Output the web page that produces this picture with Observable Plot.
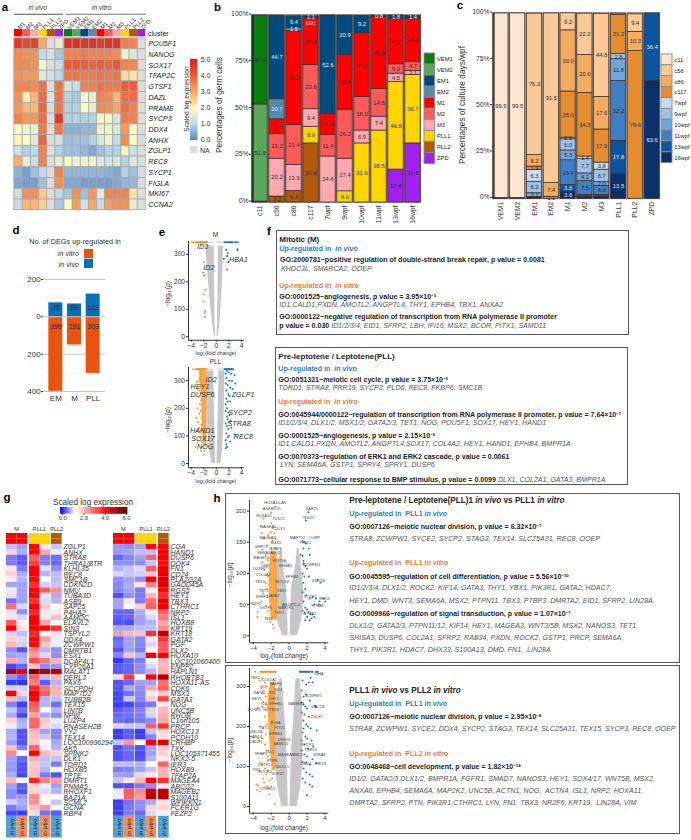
<!DOCTYPE html>
<html><head><meta charset="utf-8">
<script src="https://cdn.jsdelivr.net/npm/d3@7"></script>
<script src="https://cdn.jsdelivr.net/npm/@observablehq/plot@0.6"></script>
<style>
html,body{margin:0;padding:0;background:#fff}
#stage{position:relative;width:691px;height:840px;overflow:hidden;font-family:"Liberation Sans",Arial,sans-serif}
#stage div{position:absolute;white-space:nowrap}
#stage sup{font-size:62%;line-height:0;vertical-align:baseline;position:relative;top:-.45em}
.box{border:1.2px solid #5a5a5a;box-sizing:border-box}
</style></head><body><div id="stage"></div>
<script>
// ---------- panel a ----------
const aGenes=["POU5F1","NANOG","SOX17","TFAP2C","GTSF1","DAZL","PRAME","SYCP3","DDX4","ANHX","ZGLP1","REC8","SYCP1","FIGLA","MKI67","CCNA2"];
const aVivoCols=["M1","M2","M3","PLL1","PLL2","ZPD"];
const aVitroCols=["VEM1","VEM2","EM1","EM2","M1","M2","M3","PLL1","PLL2","ZPD"];
const aVivoValues=[
[4.6,4.4,4.5,3,null,1.6],[3.4,3.3,3.3,1.0,null,.8],[3.4,3.4,3.3,1.8,null,1.1],[3.3,3.2,3.2,1.5,null,1.0],
[3.5,3.5,3.4,3.7,null,3.7],[3.3,2.2,2.8,3.8,null,3.7],[3.2,2.8,2.8,3.9,null,3.7],[3.5,3.2,3.2,3.8,null,4.7],
[2,1.7,1.6,3.6,null,3.7],[2.1,1.9,1.5,3.9,null,1.3],[1.2,.9,1,3.5,null,.9],[2.9,1.6,1.2,3.5,null,1.5],
[.5,.3,.7,1,null,3.5],[.4,.3,.3,.7,null,3.3],[1.2,3.3,3.3,2.6,null,1],[1.1,2.8,2.8,2.5,null,.8]];
const aVitroValues=[
[4.8,4.8,4.7,4.7,4.6,4.7,4.7,3.6,3.5,null],[3.5,3.5,3.6,3.5,3.5,3.5,3.4,1.7,1.4,null],[4.1,4.1,4.0,3.9,4.0,3.9,4.1,3.5,3.4,null],[3.7,3.7,3.6,3.6,3.7,3.6,3.7,2.4,2.3,null],
[1.3,1.1,3.5,3.5,3.7,3.6,3.6,4.0,4.0,null],[.9,.8,1.8,1.6,3.5,3.4,2.8,3.8,3.8,null],[.9,.9,1.9,1.6,3.4,3.3,3.0,3.8,3.5,null],[.9,.9,.9,.9,1.9,1.8,1.3,3.6,3.5,null],
[.5,.5,.6,.6,1.7,1.7,1.4,3.2,2.0,null],[.7,.7,.7,.9,1.4,1.7,1.1,3.4,2,null],[.7,.7,.6,.4,.7,.9,.9,2.1,1.2,null],[1.9,1.7,1.7,1.7,1.4,1.2,1.4,.9,1.4,null],
[.6,.6,.6,.6,.6,.5,.4,.9,.7,null],[.4,.4,.3,.3,.3,.3,.4,.6,.6,null],[.8,3.3,.7,3.2,1.5,3.5,3.5,3.5,2.3,null],[2,3.1,1.2,3,1.1,3.1,3.3,3.3,1.6,null]];
const aStops=[0,1,2,3,4,5];
const aStopColors=["#5b86c2","#bcdaea","#fffdc0","#fca55d","#ec5f3c","#d7261e"];
const clusterNames=["VEM1","VEM2","EM1","EM2","M1","M2","M3","PLL1","PLL2","ZPD"];
const clusterColors=["#0a7d10","#5aa85a","#004b7d","#5788ad","#ff0000","#ff5a5a","#ffa8b0","#ffd500","#b35806","#a020f0"];
// ---------- panel b ----------
const bCats=["c11","c56","c86","c117","7wpf","9wpf","10wpf","11wpf","13wpf","16wpf"];
const bZPD =[0,0,0,0,0,0,0,0,17.6,31.6];
const bPLL2=[0,3.2,6.2,31.6,0,0,0,0,0,0];
const bPLL1=[0,0,0,8.9,0,6.0,31.6,38.5,46.8,36.7];
const bM3  =[0,20.2,13.9,9.4,24.6,17.4,6.9,7.4,4.5,2.1];
const bM2  =[0,13.2,21.4,23.6,11.4,26.2,18.0,14.8,5.0,4.7];
const bM1  =[0,7.9,50.2,25.0,11.4,29.4,34.1,38.5,24.3,23.3];
const bEM2 =[0,10.7,1.5,0,0,0,0,0,0,0];
const bEM1 =[.5,44.7,6.4,1.1,52.6,20.9,9.2,.8,1.8,1.4];
const bVEM2=[51.9,0,0,0,0,0,0,0,0,0];
const bVEM1=[47.6,0,0,0,0,0,0,0,0,0];
// ---------- panel c ----------
const cCats=["VEM1","VEM2","EM1","EM2","M1","M2","M3","PLL1","PLL2","ZPD"];
const cSeriesNames=["c11","c56","c86","c117","7wpf","9wpf","10wpf","11wpf","13wpf","16wpf"];
const cSeriesColors=["#fde6cf","#fbc996","#f5ac60","#e58e30","#c8ddf0","#9cc3e6","#6fa6dc","#3f7fc4","#0b559f","#08306b"];
const c16=[.5,.5,.9,0,3.6,.9,1.0,13.5,0,63.6];
const c13=[0,0,0,0,3.8,1.2,1.1,17.8,0,36.4];
const c11w=[0,0,0,0,13.4,7.5,4.9,32.2,0,0];
const c10=[0,0,2.1,0,5.3,4.1,2.0,11.8,0,0];
const c9=[0,0,6.2,0,6.0,7.7,6.7,2.8,0,0];
const c7=[0,0,6.3,0,.8,1.4,3.8,0,0,0];
const c117=[0,0,1.9,1.1,25.0,34.3,17.9,21.2,79.8,0];
const c86=[0,0,6.2,7.4,33.0,20.6,17.6,.6,10.3,0];
const c56=[0,0,76.3,91.5,9.2,22.2,44.8,0,9.4,0];
const c11=[99.5,99.5,0,0,0,0,0,0,0,0];
// ---------- panel d ----------
const dCats=["EM","M","PLL"];
const dVivo=[75,69,122];
const dVitro=[399,151,303];
// ---------- panel e ----------
const eMTopOrange=[-3.9,-3.7,-3.3,-3.1,-3.0,-2.9,-2.8,-2.7,-2.6,-2.5,-2.4,-2.3,-2.2,-2.1,-2,-1.9,-1.8,-1.7,-1.6,-1.5];
const eMTopBlue=[1.3,1.5,1.7,1.9,2.1,2.3,2.4,2.6,3,3.1,3.4];
const eMTopGrey=[-1.4,-1.2,-1,-.8,-.6,.3,.5,.7,.9,1.1];
const eMOrange=[[-1.98,272],[-2.1,233],[-1.83,224],[-2.0,222],[-1.77,170],[-1.98,154],[-2.04,128],[-1.77,94],[-1.83,85],[-1.77,73]];
const eMBlue=[[1.56,316],[1.83,304],[3.4,316],[3.35,318],[1.72,294],[1.2,284],[1.93,272],[1.72,245]];
const eMLevels=[0,50,100,150,200,250,300,330];
const eMLeftOuter=[-.3,-.6,-.85,-1.05,-1.25,-1.4,-1.6,-1.65];
const eMLeftInner=[-.12,-.2,-.22,-.25,-.28,-.3,-.32,-.35];
const eMRightOuter=[.3,.55,.7,.85,.95,1.05,1.1,1.1];
const eMRightInner=[.12,.2,.22,.25,.28,.3,.3,.3];
const eMLabels=[["ID3",-2.17,328],["ID2",-1.2,251],["HBA1",3.5,282]];
const ePTopOrange=[-3.7,-3.3,-3.1,-3,-2.9,-2.8,-2.7,-2.6,-2.5,-2.4,-2.3,-2.2,-2.1,-2,-1.9,-1.8,-1.7,-1.6];
const ePTopBlue=[1.3,1.4,1.5,1.6,1.7,1.8,1.9,2,2.1,2.2,2.3,2.4,2.5,2.7];
const ePTopGrey=[-1.4,-1.2,-1,-.8,.4,.7,1,1.2];
const ePOrange=[[-3.3,60],[-3.0,75],[-2.9,115],[-3.1,118],[-2.9,150],[-3.2,165],[-2.7,180],[-3,200],[-2.6,215],[-2.9,240],[-2.5,255],[-2.8,300],[-2.6,310],[-2.5,280],[-2.4,230],[-2.5,190],[-2.4,140],[-2.6,95],[-2.4,80],[-2.3,60],[-2.4,45],[-1.9,45],[-2.0,32],[-2.7,130],[-2.35,165],[-2.45,120],[-2.4,300],[-2.35,325],[-2.5,335],[-3.1,295],[-3.0,270],[-2.7,265]];
const ePBlue=[[1.5,325],[1.7,335],[2,330],[2.4,325],[2.9,320],[1.6,310],[2.0,300],[2.5,300],[3.0,290],[1.5,290],[1.8,285],[2.2,275],[2.6,270],[1.6,265],[1.9,250],[2.1,245],[1.6,235],[1.8,225],[1.5,215],[2.2,225],[1.7,200],[1.5,190],[1.9,185],[2.1,175],[1.7,170],[1.8,160],[2.0,150],[2.3,155],[1.5,145],[1.7,135],[1.9,125],[2.4,130],[2.9,105],[1.6,110],[1.8,95],[2.0,100],[1.5,85],[1.6,70],[1.7,60],[2.2,80],[1.5,55]];
const ePLevels=[0,50,100,150,200,250,300,335];
const ePLeftOuter=[-.7,-1.1,-1.3,-1.4,-1.5,-1.5,-1.5,-1.5];
const ePLeftInner=[-.1,-.15,-.2,-.25,-.3,-.35,-.4,-.45];
const ePRightOuter=[.7,1.0,1.1,1.2,1.25,1.3,1.35,1.3];
const ePRightInner=[.1,.15,.2,.25,.3,.35,.4,.4];
const ePBandLevels=[60,100,150,200,250,300,335];
const ePBandLeft=[-2.0,-2.15,-2.25,-2.3,-2.4,-2.6,-2.7];
const ePBandRight=[-1.5,-1.5,-1.5,-1.5,-1.45,-1.45,-1.45];
const ePLabels=[["ID2",-.82,303],["HEY1",-2.6,280],["DUSP6",-2.2,251],["HAND1",-2.25,120],["SOX17",-2.14,90],["NOG",-1.77,62],["ZGLP1",4.26,249],["SYCP2",3.78,184],["STRA8",3.62,146],["REC8",4.3,99]];
// ---------- panel g ----------
const gColLabels=["in vivo","in vitro"];
const gLeftGenes=["ZGLP1","ANHX","STRA8","THRA1/BTR","KLHL35","REC8","SMC1B","CDKN2D","NMU","TUBA3D","ASB9","SAP25","P4HA2","AAMDC","ELAVL2","SIN3","TSPYL2","DDX4","ZCWPW1","DMRTB1","ESX1","DCAF4L1","CYP26A1","MALAT1","DERL3","PAX6","SCCPDH","MAP7D2","TUBB2B","TEX15","LIN7B","NPW","LUZP4","RNASEH2B","YY2","TEX14","LOC100996294","AK5","SPINK2","DLK1","TDRD1","HOXB5","TPTE","DMRT1","PNMA5","RHOXF1","BAZ1A","SCML2","GCNA","RBP4"];
const gLeftValues=[[.85,.7,4,1.5,.9],[1.7,.75,4,2.2,1.1],[.5,.35,3,.5,.45],[.5,.35,3.3,.55,.4],[1.5,.5,4,1.05,.6],[1.7,.75,4,.8,.85],[1.45,.8,3.9,1.2,.85],[.7,.7,3.5,.95,.9],[1.1,.7,4,3,2.5],[1.6,.7,4,1.05,.75],[.45,.7,3.5,1.0,.8],[2.8,1.0,4,1.8,1.2],[1.05,.6,3.6,1.5,1.1],[1.5,1.0,4,1.5,1.9],[3,1.4,4,2.2,1.25],[4,1.5,4.2,4,3.5],[1.0,.85,3.6,1.2,1.05],[1.7,1,3.9,2.3,1.1],[2,.95,3.9,1.8,1.1],[.6,.3,2.6,.8,.6],[.7,.75,2.3,1.0,.6],[2.2,.8,3.2,2.7,2],[.25,.4,1.9,.6,.65],[4.9,4.1,5.5,4.8,4.7],[.6,.4,3,.85,2],[.2,.15,2.6,.35,.8],[.95,.95,3.6,2.8,2.1],[4,1.7,4.2,3,2],[2,.8,4,.8,.85],[.55,.2,3,.8,.45],[.9,.45,2.8,1.2,.8],[.75,.25,2.2,.75,.6],[1.7,.75,2.9,1.8,1.1],[1.1,.8,2.9,1.7,1.0],[.75,.3,2.0,.7,.55],[.8,.3,1.9,.9,.55],[.7,.3,1.8,1.3,.75],[1.9,.55,2.9,1.1,.8],[2.5,1.2,4,2,1.7],[.7,.4,2.1,.85,.9],[.65,.3,1.8,.9,.5],[.65,.3,1.9,.8,1.2],[.75,.25,1.9,.5,.3],[2,1.2,3.6,2.6,2.3],[.7,.35,1.7,1.1,.7],[.6,.3,1.7,1.0,.8],[.6,.65,2.5,1.3,1.2],[.95,.75,2.4,1.3,.9],[.5,.7,1.9,2.4,1.2],[.25,.2,1.6,.45,.35]];
const gRightGenes=["CGA","HAND1","DUSP6","DOK4","FN1","CD24","PLA2G2A","GADD45A","RGS5","HEY1","TBX3","CTHRC1","NRP2","ISL1","HOXB8","KRT19","KRT18","GATA2","PGF","DLX2","HOXA10","LOC101060400","ENPP2","HAPLN1","RHOBTB3","HOXA11-AS","CDK6","MSX1","GATA3","NOG","UNC5B","RHOB","C1orf105","PRCP","HOXC13","PCDH10","CRHBP","TXK","LOC105371455","NKX2-5","IER3","HOXB9","TFAP2A","MAGEA4","ABCG2","MAGEB2","S100A11","WFIKKN1","FCER1G","FEZF2"];
const gRightValues=[[.65,.6,.7,4,4],[.65,.7,.85,.85,4],[.4,.55,.7,2.9,4],[.6,.6,.6,.9,3.9],[.8,.9,1.0,3,4.2],[1.0,.9,.95,1.8,4.3],[.6,.7,.6,4.1,4.3],[.55,.75,1.5,2.6,4.4],[.55,.7,.5,1.3,3.9],[.3,.6,.5,2,3.5],[.7,1.1,.5,2.8,4.2],[.7,1.25,1.7,3,4.2],[.4,.4,.75,1.4,3],[.35,.4,.7,1.0,2.7],[.3,.3,.7,.8,2.2],[.75,.75,.85,.85,2.5],[2.3,2,1.9,3.5,4.7],[.4,.7,.55,1.5,3.4],[.45,.7,.55,1.0,3],[.3,.7,.5,1.2,3],[.55,1.9,.8,4,4],[.15,.4,.5,1.2,2],[.35,.4,.6,1.0,2],[.35,.4,.6,.8,2.1],[1.6,3.4,1.2,4,4.9],[.3,.4,.7,.7,2.8],[.3,.75,.6,2.2,3],[.25,.45,.55,1.1,1.8],[.25,.9,.55,1.8,3.3],[.2,.25,.4,.5,1.5],[.35,.45,.55,1.0,2],[.4,.45,.5,1.0,2.1],[.45,.4,.5,.6,2.2],[1.0,.9,.9,3,3.5],[.2,.35,.2,.9,1.6],[.2,.35,.2,.55,1.6],[.9,2.4,1.2,4,4.4],[.3,.45,.3,.7,1.8],[.3,.4,.25,.7,1.7],[.3,.4,.3,.8,1.4],[.85,.85,.8,1.25,2.9],[.5,.55,.7,.9,2],[.7,.65,1.0,1.5,2.1],[.9,1.5,2,4,3.5],[.3,.3,.5,.6,1.1],[1.1,3,2.5,4.5,4.6],[1.1,2.9,2.3,4.8,4.8],[.2,.45,.6,.75,1.5],[.2,.5,.6,1.7,1.7],[.2,.5,.4,1,1.4]];
const gStops=[0,.5,1.2,4,6];
const gStopColors=["#1414ff","#7a7aff","#ffffff","#ff0000","#4d0000"];
// ---------- panel h ----------
const h1TopLevels=[0,25,50,80,100,120,140];
const h1LeftOuter=[-.75,-1.3,-1.45,-1.5,-1.4,-1.2,-.9];
const h1LeftInner=[-.12,-.15,-.2,-.3,-.55,-.7,-.8];
const h1RightOuter=[.95,1.4,1.6,1.6,1.45,1.3,1.1];
const h1RightInner=[.12,.15,.2,.3,.6,.8,.9];
const h1BandLevels=[25,50,80,110,135];
const h1BandLeft=[-2.0,-2.15,-2.25,-2.2,-2.0];
const h1BandRight=[-1.3,-1.3,-1.3,-1.3,-1.35];
const h1Grey=[[1.2,150],[1.0,145],[1.4,160],[.9,135],[.6,125],[1.1,130],[-.9,148],[-.7,130],[1.7,70],[1.8,40],[-1.1,150],[.4,110],[-.5,108]];
const h1Orange=[[-1.56,207],[-2,197],[-2.87,188],[-2,181],[-1.86,173],[-2.05,166],[-3.05,165],[-2.35,162],[-1.68,165],[-2.8,156],[-1.86,153],[-1.5,155],[-2.42,145],[-3,138],[-2,140],[-1.5,140],[-2.6,129],[-1.86,126],[-1.6,133],[-3,118],[-2.4,121],[-2.8,105],[-2.5,110],[-2.4,95],[-2.6,85],[-2.5,75],[-2.9,68],[-2.45,62],[-3.1,55],[-2.6,48],[-2.4,40],[-3.5,38],[-3.9,50],[-3.54,30],[-2.1,22],[-1.75,12],[-1.9,30],[-1.8,18]];
const h1Blue=[[2.16,198],[1.86,185],[1.5,152],[1.7,150],[1.9,148],[2.2,140],[1.6,140],[1.3,130],[1.5,128],[2.3,130],[1.6,120],[1.6,115],[1.8,112],[2,108],[1.5,100],[1.7,95],[2.2,95],[1.6,85],[1.8,75],[3.2,90],[3.5,85],[1.5,70],[1.9,65],[2.3,60],[2.6,62],[3.0,60],[3.4,55],[3.9,60],[4.05,55],[2.8,50],[3.3,50],[1.6,55],[1.8,45],[2.0,42],[2.2,38],[2.4,35],[2.6,34],[1.5,40],[1.7,36],[2.0,30],[2.5,28],[2.8,30],[1.8,25],[2.3,25]];
const h1Labels=[["HOXA10-AS",-1.56,213],["ANKRD55",-1.94,204],["HOXA10",-2.83,193],["TUSC1",-1.19,187],["MAGEA6",-2.35,175],["DLX1",-1,171],["MAGEA3",-2.42,158],["MSX2",-1.49,150],["SPRY1",-3.13,143],["TUBB3",-1.6,140],["SEMA6A",-2.7,133],["DLX2",-1.45,133],["MAGED4",-3.1,125],["WNT5A",-1.1,120],["LBH",-2.7,113],["SEMA3",-.45,113],["DUSP6",-3.35,107],["COL4A1",-2.9,98],["EPHB4",.3,95],["TBX3",-3.28,87],["ROCK2",-.75,87],["TET1",-2.83,72],["YBX1",-.82,72],["SFRP2",-3.05,63],["GATA2",-1.78,65],["PITX1",-3.72,51],["ANGPTL4",.19,50],["GSTP1",-2.6,45],["MAP2K3",-.37,45],["THY1",-1.1,37],["FN1",-2.3,28],["SAP25",2.53,203],["NSG1",2.16,190],["MAP7D2",.93,157],["OOEP",2.8,157],["TEX15",1.8,149],["ZCWPW1",2.53,114],["SMC1B",3.28,88],["SYCP1",2.35,63],["REC8",3.95,59],["STRA8",3.17,48],["SYCE1",2.35,36]];
const h2TopOrange=[-3.8,-3.2,-3.1,-3,-2.9,-2.8,-2.7,-2.6,-2.5,-2.4,-2.3,-2.2,-2.1,-2,-1.9,-1.8,-1.7,-1.6,-1.5];
const h2TopBlue=[1.2,1.3,1.4,1.5,1.6,1.7,1.8,1.9,2,2.1,2.2,2.3,2.5,2.6,3,3.2];
const h2Levels=[0,50,100,150,200,250,300,320];
const h2LeftOuter=[-.8,-1.3,-1.5,-1.5,-1.5,-1.4,-1.2,-1.0];
const h2LeftInner=[-.1,-.15,-.2,-.25,-.4,-.55,-.7,-.8];
const h2RightOuter=[.9,1.3,1.5,1.5,1.5,1.5,1.3,1.2];
const h2RightInner=[.1,.15,.2,.3,.45,.6,.7,.8];
const h2BandLevels=[90,130,180,230,280,310];
const h2BandLeft=[-1.9,-2.05,-2.2,-2.3,-2.3,-2.0];
const h2BandRight=[-1.45,-1.45,-1.45,-1.45,-1.45,-1.5];
const h2Grey=[[-1.1,325],[-.9,310],[.6,330],[.8,320],[1.1,300],[-1.7,30],[-1.6,60],[1.6,40],[1.5,70],[-.6,285],[.5,300]];
const h2Orange=[[-3.3,315],[-3.05,320],[-2.7,310],[-2.5,300],[-2.85,290],[-3.1,295],[-2.6,275],[-2.9,262],[-2.5,255],[-2.6,240],[-3.5,248],[-3.0,250],[-2.7,225],[-2.5,205],[-3.3,200],[-2.9,195],[-2.6,180],[-3.0,170],[-3.35,165],[-3.5,170],[-2.7,155],[-2.5,140],[-3.0,130],[-2.4,125],[-3.2,110],[-3.0,105],[-2.7,95],[-2.4,90],[-2.6,80],[-2.9,70],[-3.6,42],[-3.5,52],[-3.65,55],[-3.3,38],[-2.8,60],[-2.5,50],[-2.2,65],[-1.9,70],[-2.0,50],[-2.2,30],[-1.6,7]];
const h2Blue=[[1.5,315],[1.9,305],[2.2,310],[2.4,322],[2.6,310],[1.4,290],[1.6,275],[1.9,280],[2.3,265],[1.4,260],[1.6,255],[1.8,250],[2,245],[3.0,248],[2.9,252],[1.4,235],[1.7,230],[2.2,225],[1.6,215],[1.9,205],[2.1,200],[1.6,195],[3.1,190],[1.5,185],[2.4,195],[1.8,175],[2,170],[2.5,165],[1.4,165],[1.7,155],[2.1,145],[2.7,150],[1.4,140],[1.7,130],[2.0,125],[2.6,118],[1.5,112],[1.9,110],[2.3,105],[3.0,108],[1.6,95],[1.9,85],[2.3,80],[2.6,75],[1.5,70],[1.8,60],[2.3,55],[2.6,50],[2.0,28]];
const h2Labels=[["TBX3",-3.8,323],["COL2A1",-2.2,318],["FABP4",-1.5,307],["ID1",-2.9,300],["SIX1",-1.23,292],["GATA2",-3.3,285],["SIX2",-1.8,284],["HEY1",-3.6,270],["LHX1",-1.7,270],["ID3",-2.8,257],["EPHB1",-1.5,257],["MAGEB1",.8,257],["ID2",-2.6,244],["DUSP6",-3.9,242],["TBX2",-1.7,242],["FLNA",-1.5,209],["TET1",-2.8,197],["PITX1",-1.05,196],["UNC5B",-3.7,186],["EPHB4",-1.5,182],["HAND1",-3.7,174],["DHX33",-.55,168],["CALD1",-3.7,161],["SAMD11",-.93,157],["SFRP2",-3.15,133],["ISL1",-2.15,137],["MAGEA3",-.37,129],["SMC1",.93,129],["PTPN",-1.9,115],["GSTP1",-2.8,105],["NKX2-5",-.75,100],["FN1",-3.65,92],["ROCK2",-2.7,88],["SOX17",-1.3,83],["CTHRC1",-2.4,44],["INHA",3.3,332],["ZCWPW1",2.7,278],["SMC1B",3.2,250],["ZGLP1",3.1,225],["SYCP2",2,155],["TDRD1",2.4,142],["STRA8",3.35,129],["DMC1",1.9,108],["REC8",3.55,107]];

const ORANGE="#f7931e",BLUE="#1f78b8",GREY="#c6c6c6",INK="#333";
const stage=document.getElementById("stage");

function put(html,x,y,o={}){
  const d=document.createElement("div");
  const ax=o.anchor==="center"?"-50%":o.anchor==="right"?"-100%":"0";
  d.style.left=x+"px";d.style.top=y+"px";
  d.style.transform=`translate(${ax},-50%)`+(o.rot?` rotate(${o.rot}deg)`:"");
  d.style.fontSize=(o.size||7)+"px";
  if(o.bold)d.style.fontWeight="bold";
  if(o.italic)d.style.fontStyle="italic";
  d.style.color=o.color||INK;
  d.innerHTML=html;stage.append(d);return d;
}
function box(x0,y0,x1,y1){
  const d=document.createElement("div");d.className="box";
  d.style.cssText+=`left:${x0}px;top:${y0}px;width:${x1-x0}px;height:${y1-y0}px`;
  stage.append(d);
}
function panel(f,options){
  const [t,r,b,l]=f.pad||[0,0,0,0];
  const svg=Plot.plot({
    width:f.x[1]-f.x[0]+l+r,height:f.y[1]-f.y[0]+t+b,
    marginTop:t,marginRight:r,marginBottom:b,marginLeft:l,
    style:{background:"transparent",overflow:"visible",fontFamily:'"Liberation Sans",Arial,sans-serif',color:INK},
    ...options});
  svg.style.position="absolute";
  svg.style.left=(f.x[0]-l)+"px";svg.style.top=(f.y[0]-t)+"px";
  stage.append(svg);return svg;
}
const band=(domain,extra={})=>({type:"band",domain,padding:0,round:false,axis:null,...extra});

// ===== panel letters =====
[["a",5,7],["b",217.5,7],["c",460,5],["d",16,230],["e",162,232],["f",269,231],["g",7,497],["h",217,498]]
  .forEach(([t,x,y])=>put(t,x,y,{size:11.5,bold:true,color:"#000",anchor:"center"}));

// ===== panel a =====
function heatA(cols,values,fx,withGenes){
  const cells=values.flatMap((row,i)=>row.map((v,j)=>({gene:aGenes[i],col:cols[j],v})));
  panel({x:fx,y:[38.3,210],pad:[0,withGenes?40:0,0,0]},{
    x:band(cols),y:band(aGenes),
    color:{type:"linear",domain:aStops,range:aStopColors,clamp:true},
    marks:[
      Plot.cell(cells,{x:"col",y:"gene",fill:"#dcdcdc",stroke:"#a5a5a5",strokeWidth:.7}),
      Plot.cell(cells.filter(d=>d.v!=null),{x:"col",y:"gene",fill:"v",stroke:"#a5a5a5",strokeWidth:.7}),
      ...(withGenes?[Plot.text(aGenes,{y:d=>d,frameAnchor:"right",textAnchor:"start",dx:2.5,fontSize:7.2,fontStyle:"italic",fill:"#222"})]:[])
    ]});
  panel({x:fx,y:[29.4,36.8],pad:[18,0,0,0]},{
    x:{...band(cols),axis:null},y:band(["cluster"]),
    color:{domain:clusterNames,range:clusterColors},
    marks:[
      Plot.cell(cols,{x:d=>d,y:()=>"cluster",fill:d=>d}),
      Plot.axisX({anchor:"top",tickRotate:-45,tickSize:0,tickPadding:1,fontSize:5.8,fill:"#333",label:null}),
    ]});
}
heatA(aVivoCols,aVivoValues,[14.3,63.3],false);
heatA(aVitroCols,aVitroValues,[64.3,145.6],true);
put("in vivo",37.7,7.3,{italic:true,size:6.5,anchor:"center"});
put("in vitro",101.7,7.3,{italic:true,size:6.5,anchor:"center"});
put("cluster",148,33,{size:7,color:"#222"});
panel({x:[14.3,63.3],y:[12.5,14],pad:[0,0,0,0]},{x:{axis:null,domain:[0,1]},y:{axis:null,domain:[0,1]},marks:[Plot.ruleY([.5],{stroke:"#555",strokeWidth:1})]});
panel({x:[65.7,145.7],y:[12.5,14],pad:[0,0,0,0]},{x:{axis:null,domain:[0,1]},y:{axis:null,domain:[0,1]},marks:[Plot.ruleY([.5],{stroke:"#777",strokeWidth:1})]});
// legend a
panel({x:[190,197.3],y:[59.3,139.3],pad:[0,14,0,0]},{
  y:{domain:[0,5]},x:{axis:null,domain:[0,1]},
  color:{type:"linear",domain:aStops,range:aStopColors},
  marks:[
    Plot.ruleY(d3.range(0,5.02,.04),{y:d=>d,stroke:d=>d,strokeWidth:1.3}),
    Plot.axisY({anchor:"right",ticks:aStops,tickSize:0,tickPadding:3,fontSize:7,label:null})
  ]});
put("Scaled log expression",185.7,98.5,{size:6.7,rot:-90,anchor:"center"});
panel({x:[190,197.3],y:[145.7,153],pad:[0,0,0,0]},{x:{axis:null,domain:[0,1]},y:{axis:null,domain:[0,1]},marks:[Plot.rect([0],{x1:0,x2:1,y1:0,y2:1,fill:"#dcdcdc"})]});
put("NA",200,149.5,{size:7});

// ===== stacked bars =====
function stacked(cats,series,f,colorDomain,colorRange,whiteSeries,hide,axisX){
  const rows=[];
  cats.forEach((c,i)=>{let s=0;series.forEach(([name,vals])=>{const v=vals[i];if(v>0){rows.push({cat:c,name,v,y1:s,y2:s+v});s+=v;}});});
  panel(f,{
    x:band(cats,{paddingInner:.1,paddingOuter:.05,padding:undefined}),
    y:{domain:[0,100],axis:null},
    color:{domain:colorDomain,range:colorRange},
    marks:[
      Plot.barY(cats,{x:d=>d,y1:()=>0,y2:()=>100,fill:"#fff",stroke:"#8a8a8a",strokeWidth:1.8}),
      Plot.barY(rows,{x:"cat",y1:"y1",y2:"y2",fill:"name",stroke:"#3a2a2a",strokeWidth:.7}),
      Plot.text(rows.filter(d=>!hide(d)),{x:"cat",y:d=>(d.y1+d.y2)/2,text:d=>d.v.toFixed(1),fontSize:5.8,fill:d=>whiteSeries.includes(d.name)?"#e6eef5":"#2a2a2a"}),
      Plot.ruleX([0],{x:()=>cats[0],dx:axisX.dx,y1:0,y2:100,stroke:"#222",strokeWidth:1.4}),
      Plot.axisX({anchor:"bottom",tickSize:0,tickRotate:-90,tickPadding:3,fontSize:6.8,label:null}),
      Plot.axisY({anchor:"left",ticks:[0,25,50,75,100],tickFormat:d=>d+"%",tickSize:2,tickPadding:1,fontSize:6.8,label:null,dy:-1.5}),
    ]});
}
function legendColumn(n,c,f){
  panel(f,{
    x:{type:"band",domain:["k"],padding:0,round:false,axis:null},y:band(n),
    color:{domain:n,range:c},
    marks:[
      Plot.cell(n,{x:()=>"k",y:d=>d,fill:d=>d,stroke:"#8a8a8a",strokeWidth:.9}),
      Plot.text(n,{y:d=>d,frameAnchor:"right",textAnchor:"start",dx:1.8,fontSize:5.8,fill:"#222"})
    ]});
}
const bSeries=[["ZPD",bZPD],["PLL2",bPLL2],["PLL1",bPLL1],["M3",bM3],["M2",bM2],["M1",bM1],["EM2",bEM2],["EM1",bEM1],["VEM2",bVEM2],["VEM1",bVEM1]];
stacked(bCats,bSeries,{x:[251.45,421.45],y:[15,202],pad:[6,0,20,24]},clusterNames,clusterColors,["EM1","EM2"],d=>d.v<.7,{dx:-7});
put("EM1",311,23.3,{size:5,color:"#f4dcdc",anchor:"center"});
put("Percentages of germ cells",219,105,{size:8.3,rot:-90,anchor:"center"});
legendColumn(clusterNames,clusterColors,{x:[424,434.7],y:[53,163.5],pad:[0,24,0,0]});
// panel c
const cSeries=[["16wpf",c16],["13wpf",c13],["11wpf",c11w],["10wpf",c10],["9wpf",c9],["7wpf",c7],["c117",c117],["c86",c86],["c56",c56],["c11",c11]];
stacked(cCats,cSeries,{x:[491.5,659.5],y:[12.7,198],pad:[6,0,20,24]},cSeriesNames,cSeriesColors,["13wpf","16wpf"],d=>d.v<.7||((d.name==="16wpf"||d.name==="13wpf")&&d.v<1.5),{dx:-7});
put("Percentages of culture days/wpf",462.3,105,{size:8.3,rot:-90,anchor:"center"});
legendColumn(cSeriesNames,cSeriesColors,{x:[660.7,671.7],y:[54,162.7],pad:[0,20,0,0]});

// ===== panel d =====
panel({x:[43,105],y:[278.7,390.7],pad:[4,2,16,16]},{
  x:band(dCats,{paddingInner:.25,paddingOuter:.287,padding:undefined}),
  y:{domain:[-400,200],axis:null},
  marks:[
    Plot.ruleY([100,-100,-300],{stroke:"#efefef",strokeWidth:1}),
    Plot.ruleY([200,-200,-400],{stroke:"#c4c4c4",strokeWidth:1}),
    Plot.barY(dCats,{x:d=>d,y1:()=>0,y2:(d,i)=>dVivo[i],fill:"#0a6fb4"}),
    Plot.barY(dCats,{x:d=>d,y1:()=>0,y2:(d,i)=>-dVitro[i],fill:"#e8540f"}),
    Plot.ruleY([0],{stroke:"#c4c4c4",strokeWidth:1}),
    Plot.text(dCats,{x:d=>d,y:()=>50,text:(d,i)=>dVivo[i],fontSize:7,fill:"#222"}),
    Plot.text(dCats,{x:d=>d,y:()=>-53,text:(d,i)=>dVitro[i],fontSize:7,fill:"#222"}),
    Plot.axisY({anchor:"left",ticks:[200,0,-200,-400],tickFormat:d=>Math.abs(d),tickSize:1.8,tickPadding:1,fontSize:8,label:null}),
    Plot.axisX({anchor:"bottom",tickSize:0,tickPadding:4,fontSize:8,label:null})
  ]});
put("No. of DEGs up-regulated in",75,240.7,{size:7.3,anchor:"center"});
put("in vitro",79,253,{size:7.2,italic:true,anchor:"right"});
put("in vivo",79,264,{size:7.2,italic:true,anchor:"right"});
panel({x:[84,93],y:[248,269],pad:[0,0,0,0]},{
  x:{axis:null,domain:[0,1]},y:band(["in vitro","in vivo"],{paddingInner:.08,padding:undefined}),
  color:{domain:["in vitro","in vivo"],range:["#e8540f","#0a6fb4"]},
  marks:[Plot.barX(["in vitro","in vivo"],{x1:0,x2:1,y:d=>d,fill:d=>d})]});

// ===== volcanoes =====
const tri=(levels,a,b)=>levels.map((y,i)=>({y,a:a[i],b:b[i]}));
function volcano(c){
  const pts=a=>a.map(([x,y])=>({x,y}));
  const marks=[
    Plot.areaX(tri(c.levels,c.lo,c.li),{y:"y",x1:"a",x2:"b",fill:GREY}),
    Plot.areaX(tri(c.levels,c.ro,c.ri),{y:"y",x1:"a",x2:"b",fill:GREY})
  ];
  if(c.bandLevels)marks.push(Plot.areaX(tri(c.bandLevels,c.bandLeft,c.bandRight),{y:"y",x1:"a",x2:"b",fill:ORANGE,fillOpacity:.82}));
  if(c.grey)marks.push(Plot.dot(pts(c.grey),{x:"x",y:"y",r:.6,fill:GREY}));
  if(c.topGrey)marks.push(Plot.dot(c.topGrey,{x:d=>d,y:()=>c.topY,r:.7,fill:GREY}));
  marks.push(
    Plot.dot(pts(c.orange),{x:"x",y:"y",r:c.r,fill:ORANGE}),
    Plot.dot(pts(c.blue),{x:"x",y:"y",r:c.r,fill:BLUE}));
  if(c.topOrange)marks.push(Plot.dot(c.topOrange,{x:d=>d,y:()=>c.topY,r:1,fill:ORANGE}));
  if(c.topBlue)marks.push(Plot.dot(c.topBlue,{x:d=>d,y:()=>c.topY,r:1,fill:BLUE}));
  marks.push(
    Plot.ruleX([c.xd[0]],{stroke:"#333",strokeWidth:1}),
    Plot.ruleY([c.yd[0]],{stroke:"#333",strokeWidth:1}),
    Plot.text(c.labels,{x:d=>d[1],y:d=>d[2],text:d=>d[0],fontSize:c.labelSize,fontStyle:c.labelItalic?"italic":"normal",fill:c.labelColor}),
    Plot.axisY({anchor:"left",ticks:c.yTicks,tickSize:2,tickPadding:1.5,fontSize:c.tick,label:null}),
    Plot.axisX({anchor:"bottom",ticks:[-4,-2,0,2,4],tickSize:2,tickPadding:1,fontSize:c.tick,label:null}));
  panel({x:c.fx,y:c.fy,pad:[2,14,14,18]},{x:{domain:c.xd,axis:null},y:{domain:c.yd,axis:null},marks});
}
volcano({fx:[188,243.7],fy:[240.5,339.3],xd:[-4.43,4.43],yd:[-13,346.5],yTicks:[0,100,200,300],tick:6.6,r:1,topY:344,
  levels:eMLevels,lo:eMLeftOuter,li:eMLeftInner,ro:eMRightOuter,ri:eMRightInner,
  topOrange:eMTopOrange,topBlue:eMTopBlue,topGrey:eMTopGrey,orange:eMOrange,blue:eMBlue,labels:eMLabels,labelSize:7.2,labelItalic:true,labelColor:"#333"});
volcano({fx:[188,243.7],fy:[367,467.3],xd:[-4.43,4.43],yd:[-15.5,348],yTicks:[0,100,200,300],tick:6.6,r:1,topY:342,
  levels:ePLevels,lo:ePLeftOuter,li:ePLeftInner,ro:ePRightOuter,ri:ePRightInner,bandLevels:ePBandLevels,bandLeft:ePBandLeft,bandRight:ePBandRight,
  topOrange:ePTopOrange,topBlue:ePTopBlue,topGrey:ePTopGrey,orange:ePOrange,blue:ePBlue,labels:ePLabels,labelSize:7.2,labelItalic:true,labelColor:"#333"});
put("M",215.5,234,{size:6.6,anchor:"center"});
put("PLL",215.5,361,{size:6.6,anchor:"center"});
put("log₂(fold change)",216,353,{size:5.4,anchor:"center"});
put("log₂(fold change)",216,480.5,{size:5.4,anchor:"center"});
put("−log₁₀(<i>p</i>)",167,294,{size:6.6,rot:-90,anchor:"center"});
put("−log₁₀(<i>p</i>)",167,420,{size:6.6,rot:-90,anchor:"center"});
volcano({fx:[248.7,328],fy:[500,642.3],xd:[-4.43,4.43],yd:[-11.2,217],yTicks:[0,50,100,150,200],tick:6,r:1,
  levels:h1TopLevels,lo:h1LeftOuter,li:h1LeftInner,ro:h1RightOuter,ri:h1RightInner,bandLevels:h1BandLevels,bandLeft:h1BandLeft,bandRight:h1BandRight,
  grey:h1Grey,orange:h1Orange,blue:h1Blue,labels:h1Labels,labelSize:3.9,labelColor:"#444"});
volcano({fx:[248.7,328],fy:[668,812.7],xd:[-4.43,4.43],yd:[-16.8,345],yTicks:[0,100,200,300],tick:6,r:1,topY:337,
  levels:h2Levels,lo:h2LeftOuter,li:h2LeftInner,ro:h2RightOuter,ri:h2RightInner,bandLevels:h2BandLevels,bandLeft:h2BandLeft,bandRight:h2BandRight,
  topOrange:h2TopOrange,topBlue:h2TopBlue,grey:h2Grey,orange:h2Orange,blue:h2Blue,labels:h2Labels,labelSize:3.9,labelColor:"#444"});
put("log₂(fold change)",284,655,{size:6.3,anchor:"center"});
put("log₂(fold change)",284,826.7,{size:6.3,anchor:"center"});
put("−log₁₀(<i>p</i>)",229,575,{size:6.3,rot:-90,anchor:"center"});
put("−log₁₀(<i>p</i>)",229,750,{size:6.3,rot:-90,anchor:"center"});

// ===== panel g =====
const gGroups=[{name:"M",from:0,n:2,color:"#ff0000"},{name:"PLL1",from:2,n:2,color:"#ffd500"},{name:"PLL2",from:4,n:1,color:"#b35806"}];
const gColColors=["#4f9fd4","#f08c5a"];
function heatG(x0,genes,values){
  const top=["_a","_b"],bot=["_c","_d","_e","_f"];
  const rows=[...top,...genes,...bot];
  let x=x0;
  gGroups.forEach((g,gi)=>{
    const cols=d3.range(g.n);
    const last=gi===gGroups.length-1;
    const cells=genes.flatMap((gene,i)=>cols.map(j=>({gene,j,v:values[i][g.from+j]})));
    const w=g.n*10.67;
    panel({x:[x,x+w],y:[533.1,837.76],pad:[0,last?44:0,0,0]},{
      x:band(cols),y:band(rows),
      color:{type:"linear",domain:gStops,range:gStopColors,clamp:true},
      marks:[
        Plot.cell(cells,{x:"j",y:"gene",fill:"v"}),
        Plot.cell(cols.flatMap(j=>top.map(r=>({j,r}))),{x:"j",y:"r",fill:g.color}),
        Plot.cell(cols.flatMap(j=>bot.map(r=>({j,r}))),{x:"j",y:"r",fill:d=>gColColors[d.j]}),
        Plot.text(cols,{x:d=>d,y:()=>"_e",dy:-2.7,rotate:-90,text:d=>gColLabels[d],fontSize:6,fontStyle:"italic",fill:"#222"}),
        ...(last?[Plot.text(genes,{y:d=>d,frameAnchor:"right",textAnchor:"start",dx:1.4,fontSize:7,fontStyle:"italic",fill:"#333"})]:[])
      ]});
    put(g.name,x+w/2,528.7,{size:5.6,anchor:"center"});
    x+=w+1.35;
  });
}
heatG(6,gLeftGenes,gLeftValues);
heatG(112.7,gRightGenes,gRightValues);
put("Scaled log expression",93,501.7,{size:8.2,anchor:"center"});
panel({x:[60,127],y:[507.3,514],pad:[0,4,8,4]},{
  x:{domain:[-.2,6.1]},y:{axis:null,domain:[0,1]},
  color:{type:"linear",domain:gStops,range:gStopColors},
  marks:[
    Plot.ruleX(d3.range(-.2,6.1,.05),{x:d=>d,stroke:d=>d,strokeWidth:.9}),
    Plot.axisX({anchor:"bottom",ticks:[0,2,4,6],tickSize:1.5,tickPadding:0,fontSize:5.8,label:null})
  ]});

// ===== text boxes =====
const B={bold:true,size:7.05,color:"#222"},I={italic:true,size:7.1,color:"#555"},H={bold:true,size:8.2,color:"#222"};
const BL={bold:true,size:7.1,color:"#2a80c5"},OR={bold:true,size:7.1,color:"#f07a30"};
box(276.3,230.3,629.3,335.5);
const fx=279.3;
[["Mitotic (M)",239.3,{...B,size:8}],
 ["Up-regulated in&nbsp; <i>in vivo</i>",248.7,BL],
 ["GO:2000781~positive regulation of double-strand break repair, p value = 0.0081",258.7,B,.7],
 ["KHDC3L, SMARCA2, OOEP",268.7,I,1.7],
 ["Up-regulated in&nbsp; <i>in vitro</i>",286.3,OR],
 ["GO:0001525~angiogenesis, p value = 3.95×10<sup>−5</sup>",296.3,B],
 ["ID1,CALD1,PXDN, AMOTL2, ANGPTL4, THY1, EPHB4, TBX1, ANXA2",305.3,I],
 ["GO:0000122~negative regulation of transcription from RNA polymerase II promoter",316.3,B],
 ["p value = 0.030 <span style='font-weight:normal;font-style:italic;color:#555'>ID1/2/3/4, EID1, SFRP2, LBH, IFI16, MSX2, BCOR, PITX1, SAMD11</span>",325.3,B]
].forEach(([t,y,o,dx])=>put(t,fx+(dx||0),y,o));
box(275.3,347,628,485);
const f2=278.3;
[["Pre-leptotene / Leptotene(PLL)",356.3,{...B,size:8}],
 ["Up-regulated in&nbsp; <i>in vivo</i>",369,BL],
 ["GO:0051321~meiotic cell cycle, p value = 3.75×10<sup>−6</sup>",379,B],
 ["TDRD1, STRA8, PRR19, SYCP3, PLD6, REC8, FKBP6, SMC1B",388,I],
 ["Up-regulated in&nbsp; <i>in vitro</i>",401.7,OR],
 ["GO:0045944/0000122~regulation of transcription from RNA polymerase II promoter, p value = 7.64×10<sup>−7</sup>",414.3,B],
 ["ID1/2/3/4, DLX1/2, MSX1/2, GATA2/3, TET1, NOG, POU5F1, SOX17, HEY1, HAND1",423.3,I],
 ["GO:0001525~angiogenesis, p value = 2.15×10<sup>−6</sup>",435,B],
 ["ID1,CALD1,PXDN, AMOTL2, ANGPTL4,SOX17, COL4A2, HEY1, HAND1, EPHB4, BMPR1A",444.3,I],
 ["GO:0070373~regulation of ERK1 and ERK2 cascade, p value = 0.0061",456,B],
 ["&nbsp;LYN, SEMA6A, GSTP1, SPRY4, SPRY1, DUSP6",465,I],
 ["GO:0071773~cellular response to BMP stimulus, p value = 0.0099 <span style='font-weight:normal;font-style:italic;color:#555'>DLX1, COL2A1, GATA3, BMPR1A</span>",478.5,B]
].forEach(([t,y,o])=>put(t,f2,y,o));
box(225,492.7,680.3,662.7);
box(225,665,680.3,834);
const hx=349.3;
[["Pre-leptotene / Leptotene(PLL)1 <i>in vivo</i> vs PLL1 <i>in vitro</i>",500,H],
 ["Up-regulated in&nbsp; PLL1 <i>in vivo</i>",514,BL],
 ["GO:0007126~meiotic nuclear division, p value = 6.32×10<sup>−7</sup>",526.3,B],
 ["STRA8, ZCWPW1, SYCE2, SYCP2, STAG3, TEX14, SLC25A31, REC8, OOEP",538.7,I],
 ["Up-regulated in&nbsp; PLL1 <i>in vitro</i>",563.3,OR],
 ["GO:0045595~regulation of cell differentiation, p value = 5.56×10<sup>−10</sup>",576,B],
 ["ID1/2/3/4, DLX1/2, ROCK2, KIF14, GATA3, THY1, YBX1, PIK3R1, GATA2, HDAC7,",588.3,I],
 ["HEY1, DMD, WNT3, SEMA6A, MSX2, PTPN11, TBX3, PTBP3, DMRTA2, EID1, SFRP2, LIN28A",600.7,I],
 ["GO:0009966~regulation of signal transduction, p value = 1.07×10<sup>−7</sup>",613,B],
 ["DLX1/2, GATA2/3, PTPN11/12, KIF14, HEY1, MAGEA3, WNT3/5B, MSX2, NANOS3, TET1,",625.7,I],
 ["SHISA3, DUSP6, COL2A1, SFRP2, RAB34, PXDN, ROCK2, GSTP1, PRCP, SEMA6A,",638,I],
 ["THY1, PIK3R1, HDAC7, DHX33, S100A13, DMD, FN1,&nbsp; LIN28A",650.3,I],
 ["PLL1 <i>in vivo</i> vs PLL2 <i>in vitro</i>",690,H],
 ["Up-regulated in&nbsp; PLL1 <i>in vivo</i>",704.3,BL],
 ["GO:0007126~meiotic nuclear division, p value = 2.95×10<sup>−8</sup>",716.3,B],
 ["STRA8, ZCWPW1, SYCE2, DDX4, SYCP2, STAG3, TEX14, SLC25A31, TEX15, SYCP3, REC8, OOEP",728.7,I],
 ["Up-regulated in&nbsp; PLL2 <i>in vitro</i>",754,OR],
 ["GO:0048468~cell development, p value = 1.82×10<sup>−14</sup>",766.3,B],
 ["ID1/2, GATA2/3,DLX1/2, BMPR1A, FGFR1, SMAD7, NANOS3, HEY1, SOX4/17, WNT5B, MSX2,",778.7,I],
 ["ANXA6, EPHB4, SEMA6A, MAP2K2, UNC5B, ACTN1, NOG,&nbsp; ACTN4, ISL1, NRP2, HOXA11,",791,I],
 ["DMRTA2, SFRP2, PTN, PIK3R1,CTHRC1, LYN, FN1, TBX3, NR2F6, KRT19,&nbsp; LIN28A, VIM",803.3,I]
].forEach(([t,y,o])=>put(t,hx,y,o));
</script></body></html>
